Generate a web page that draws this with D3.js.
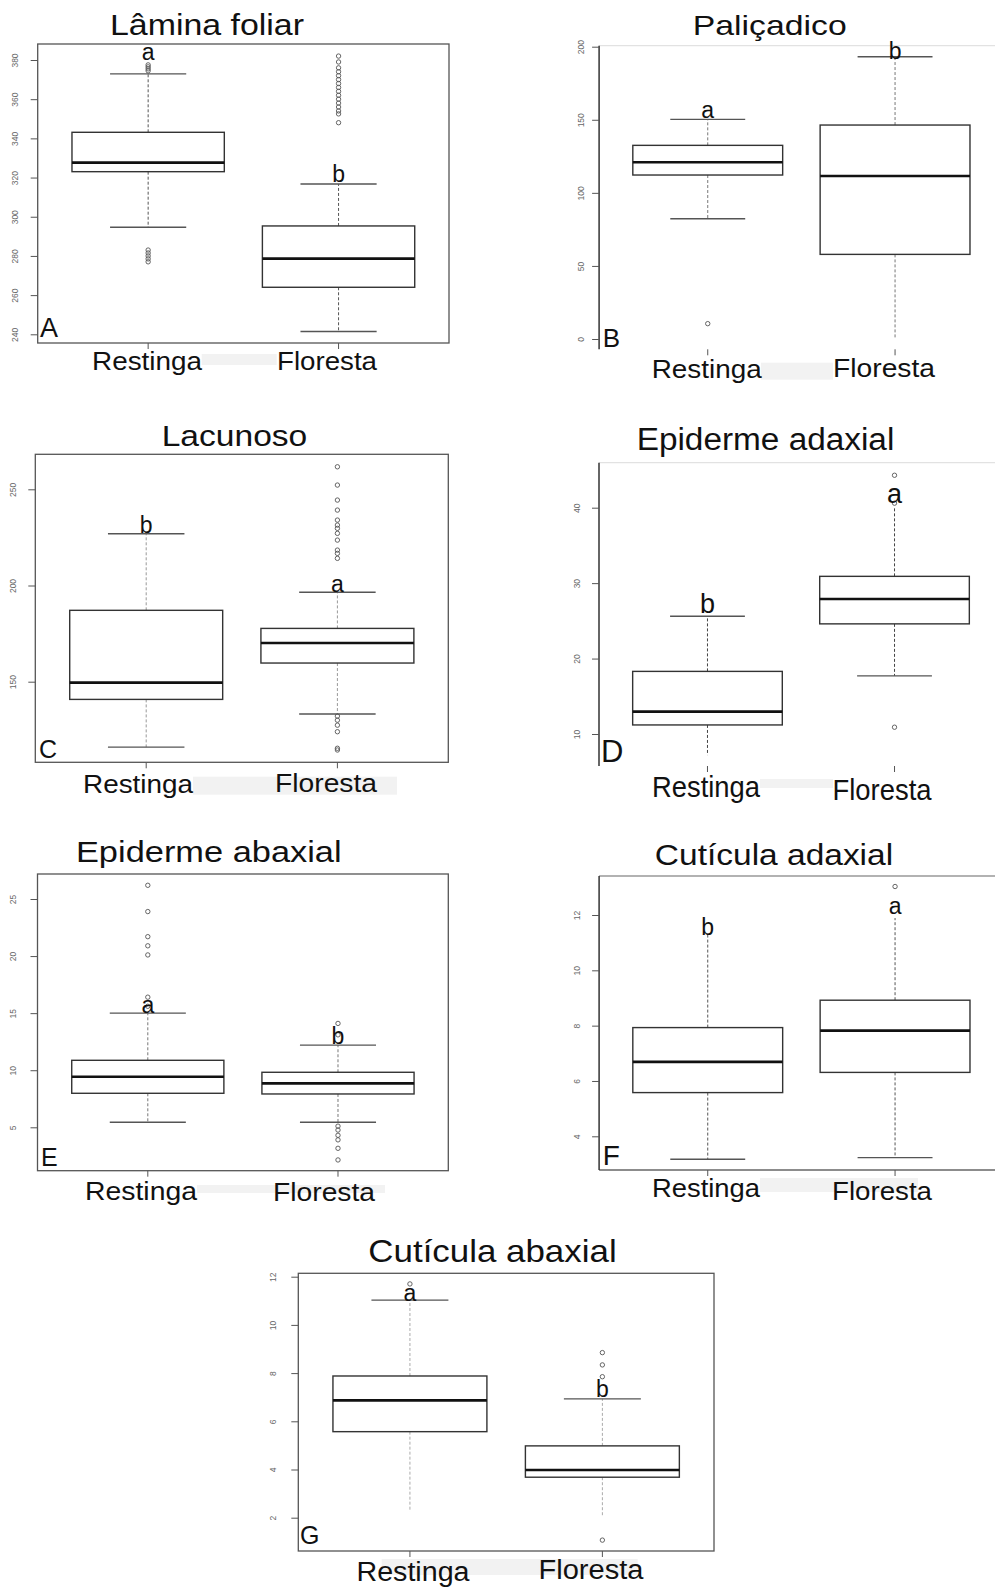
<!DOCTYPE html>
<html>
<head>
<meta charset="utf-8">
<script src="https://cdn.jsdelivr.net/npm/d3@7"></script>
<style>
  body { margin: 0; background: #fff; }
  svg { display: block; }
  text { font-family: "Liberation Sans", Arial, sans-serif; }
</style>
</head>
<body>
<svg id="fig" width="995" height="1587"></svg>
<script>
// ---- data: leaf anatomy measurements, Restinga vs Floresta ----
const groups = ["Restinga", "Floresta"];
const titles = ["Lâmina foliar", "Paliçadico", "Lacunoso", "Epiderme adaxial",
                "Epiderme abaxial", "Cutícula adaxial", "Cutícula abaxial"];
const panelTags = ["A", "B", "C", "D", "E", "F", "G"];
const tickValues = [
  [240, 260, 280, 300, 320, 340, 360, 380],
  [0, 50, 100, 150, 200],
  [150, 200, 250],
  [10, 20, 30, 40],
  [5, 10, 15, 20, 25],
  [4, 6, 8, 10, 12],
  [2, 4, 6, 8, 10, 12]
];
// five-number summaries, [Restinga, Floresta] per panel
const lowerWhisker  = [[294.6, 241.4], [82.3, 0.5], [116, 133.2], [7.2, 17.7], [5.44, 5.44], [3.17, 3.23], [2.25, 2.07]];
const lowerQuartile = [[323, 264], [112.2, 57.9], [140.8, 159.7], [11.2, 24.6], [7.98, 7.92], [5.58, 6.31], [5.57, 3.68]];
const medians       = [[327.6, 278.6], [120.9, 111.5], [149.5, 170.1], [12.96, 27.9], [9.43, 8.85], [6.69, 7.82], [6.87, 3.98]];
const upperQuartile = [[343.1, 295.3], [132.5, 146.4], [187.1, 177.7], [18.3, 30.9], [10.87, 9.82], [7.93, 8.92], [7.88, 4.98]];
const upperWhisker  = [[372.9, 316.7], [150.3, 193.1], [226.9, 196.5], [25.6, 40.1], [15.0, 12.2], [11.28, 11.89], [11.03, 6.93]];
const outliers = [
  [[283, 281.5, 280, 278.5, 277, 374.5, 375.5, 376.5, 377.5],
   [382, 379, 376, 374, 372, 370, 368, 366, 364, 362, 360, 358, 356, 354, 352.5, 348]],
  [[10.5], []],
  [[],
   [261.7, 252.2, 244.4, 239.2, 234, 231.4, 229.7, 227.1, 223.6, 218.4, 216.7, 214.1,
    132.1, 130, 127.4, 124, 115.4, 114.5]],
  [[], [10.9, 40.6, 44.3]],
  [[26.2, 23.9, 21.7, 20.9, 20.1, 16.4, 15.6],
   [14.1, 13.1, 5.1, 4.76, 4.3, 3.9, 3.16, 2.14]],
  [[], [13.03]],
  [[11.7], [8.85, 8.34, 7.85, 1.07]]
];
const groupLetters = [["a", "b"], ["a", "b"], ["b", "a"], ["b", "a"], ["a", "b"], ["b", "a"], ["a", "b"]];

// ---- panel geometry ----
const layout = [
  { left: 37.7, right: 449, top: 44, bottom: 343, yd: [240, 380], yr: [334.3, 60], frame: "box", tickLabelX: 15,
    title: { cx: 207, y: 35, size: 30, w: 194 },
    xlab: { size: 25, items: [{ cx: 147, w: 110, y: 370 }, { cx: 327, w: 100, y: 370 }] },
    band: [201.7, 354, 75, 11], letters: { size: 23, y: [60, 182] }, tag: { x: 40, y: 337, size: 27 },
    whisker: "#555", hideCaps: [[false, false], [false, false]] },
  { left: 599.1, right: 1003.7, top: 45.7, bottom: 349.3, yd: [0, 200], yr: [339, 46.7], frame: "open", tickLabelX: 580.7,
    title: { cx: 769.7, y: 35, size: 28, w: 154 },
    xlab: { size: 26, items: [{ cx: 706.7, w: 110, y: 378 }, { cx: 884, w: 102, y: 376.7 }] },
    band: [761, 362.7, 72, 17], letters: { size: 23, y: [118, 59] }, tag: { x: 602.7, y: 346.7, size: 26 },
    whisker: "#777", hideCaps: [[false, false], [true, false]] },
  { left: 35.3, right: 448.3, top: 454.3, bottom: 762.3, yd: [150, 250], yr: [681.7, 489.3], frame: "box", tickLabelX: 13.3,
    title: { cx: 234.5, y: 446, size: 30, w: 145.6 },
    xlab: { size: 25, items: [{ cx: 138, w: 110, y: 792.7 }, { cx: 326, w: 102, y: 792 }] },
    band: [193, 776.7, 204, 18], letters: { size: 23, y: [533, 591.7] }, tag: { x: 39, y: 758.3, size: 25 },
    whisker: "#999", hideCaps: [[false, false], [false, false]] },
  { left: 599, right: 1003, top: 462.7, bottom: 766, yd: [10, 40], yr: [734, 507.7], frame: "open", tickLabelX: 577,
    title: { cx: 765.5, y: 450, size: 31, w: 257.7 },
    xlab: { size: 29, items: [{ cx: 706, w: 108, y: 796.7 }, { cx: 882, w: 99, y: 800 }] },
    band: [760, 779, 73, 9], letters: { size: 27, y: [613, 503] }, tag: { x: 601, y: 761.7, size: 31 },
    whisker: "#444", hideCaps: [[true, false], [false, true]] },
  { left: 37.5, right: 448.3, top: 874, bottom: 1170.7, yd: [5, 25], yr: [1127.3, 899], frame: "box", tickLabelX: 13.3,
    title: { cx: 208.8, y: 862, size: 29, w: 265.7 },
    xlab: { size: 25, items: [{ cx: 141, w: 112, y: 1200 }, { cx: 324, w: 102, y: 1201 }] },
    band: [197, 1185, 188, 8], letters: { size: 23, y: [1012.7, 1044] }, tag: { x: 41, y: 1166, size: 25 },
    whisker: "#777", hideCaps: [[false, false], [false, false]] },
  { left: 599.1, right: 1003.7, top: 876, bottom: 1170, yd: [4, 12], yr: [1136.3, 915], frame: "openBottom", tickLabelX: 577.3,
    title: { cx: 774, y: 865, size: 30, w: 238.3 },
    xlab: { size: 26, items: [{ cx: 706, w: 108, y: 1196.7 }, { cx: 882, w: 100, y: 1200 }] },
    band: [760, 1178, 158, 14], letters: { size: 23, y: [935, 914] }, tag: { x: 602.7, y: 1165, size: 28 },
    whisker: "#555", hideCaps: [[false, true], [false, true]] },
  { left: 298.3, right: 714, top: 1273.3, bottom: 1551, yd: [2, 12], yr: [1517.7, 1276.7], frame: "box", tickLabelX: 273.3,
    title: { cx: 492.5, y: 1262, size: 32, w: 248.3 },
    xlab: { size: 27, items: [{ cx: 413, w: 113, y: 1580.7 }, { cx: 591, w: 105, y: 1579.3 }] },
    band: [381.7, 1559, 256, 16], letters: { size: 23, y: [1301, 1396.7] }, tag: { x: 300, y: 1544, size: 25 },
    whisker: "#aaa", hideCaps: [[true, false], [true, false]] }
];

const svg = d3.select("#fig");
svg.append("rect").attr("width", 995).attr("height", 1587).attr("fill", "#fff");

layout.forEach((L, p) => {
  const g = svg.append("g").attr("class", "panel-" + panelTags[p]);
  // boxplot positions 1 and 2 on an x range padded to [0.42, 2.58]
  const x = d3.scaleLinear().domain([0.42, 2.58]).range([L.left, L.right]);
  const y = d3.scaleLinear().domain(L.yd).range(L.yr);
  const unit = x(2) - x(1);
  const boxHalf = 0.4 * unit, capHalf = 0.2 * unit;

  // faint band behind the group labels
  g.append("rect").attr("x", L.band[0]).attr("y", L.band[1])
    .attr("width", L.band[2]).attr("height", L.band[3]).attr("fill", "#f2f2f2");

  // frame
  if (L.frame === "box") {
    g.append("rect").attr("x", L.left).attr("y", L.top)
      .attr("width", L.right - L.left).attr("height", L.bottom - L.top)
      .attr("fill", "none").attr("stroke", "#555").attr("stroke-width", 1.3);
  } else {
    g.append("line").attr("x1", L.left).attr("x2", 995).attr("y1", L.top).attr("y2", L.top)
      .attr("stroke", L.frame === "openBottom" ? "#999" : "#e2e2e2").attr("stroke-width", 1.3);
    if (L.frame === "openBottom") {
      g.append("line").attr("x1", L.left).attr("x2", 995).attr("y1", L.bottom).attr("y2", L.bottom)
        .attr("stroke", "#666").attr("stroke-width", 1.3);
    }
    g.append("line").attr("x1", L.left).attr("x2", L.left).attr("y1", L.top).attr("y2", L.bottom)
      .attr("stroke", "#333").attr("stroke-width", 1.5);
  }

  // y axis with rotated tick labels
  const yAxis = d3.axisLeft(y).tickValues(tickValues[p]).tickSize(7).tickPadding(0).tickFormat(d3.format("d"));
  const ax = g.append("g").attr("transform", `translate(${L.left},0)`).call(yAxis);
  ax.select(".domain").remove();
  ax.selectAll(".tick line").attr("stroke", "#555").attr("stroke-width", 1);
  ax.selectAll(".tick text")
    .attr("x", null).attr("dy", null)
    .attr("text-anchor", "middle")
    .attr("transform", d => `translate(${L.tickLabelX - L.left},0) rotate(-90) translate(0,3)`)
    .attr("font-size", 8.5).attr("fill", "#666");

  // x ticks at the group positions
  groups.forEach((name, i) => {
    g.append("line").attr("x1", x(i + 1)).attr("x2", x(i + 1))
      .attr("y1", L.bottom).attr("y2", L.bottom + 6)
      .attr("stroke", "#555").attr("stroke-width", 1);
  });

  groups.forEach((name, i) => {
    const cx = x(i + 1);
    const lw = lowerWhisker[p][i], q1 = lowerQuartile[p][i], md = medians[p][i],
          q3 = upperQuartile[p][i], uw = upperWhisker[p][i];
    // dashed whiskers
    g.append("line").attr("x1", cx).attr("x2", cx).attr("y1", y(q3)).attr("y2", y(uw))
      .attr("stroke", L.whisker).attr("stroke-width", 1).attr("stroke-dasharray", "3,2");
    g.append("line").attr("x1", cx).attr("x2", cx).attr("y1", y(q1)).attr("y2", y(lw))
      .attr("stroke", L.whisker).attr("stroke-width", 1).attr("stroke-dasharray", "3,2");
    // staples
    [[lw, 0], [uw, 1]].forEach(([v, k]) => {
      if (L.hideCaps[i][k]) return;
      g.append("line").attr("x1", cx - capHalf).attr("x2", cx + capHalf)
        .attr("y1", y(v)).attr("y2", y(v))
        .attr("stroke", "#555").attr("stroke-width", 1.4);
    });
    // box
    g.append("rect").attr("x", cx - boxHalf).attr("y", y(q3))
      .attr("width", 2 * boxHalf).attr("height", y(q1) - y(q3))
      .attr("fill", "#fff").attr("stroke", "#333").attr("stroke-width", 1.4);
    // median
    g.append("line").attr("x1", cx - boxHalf).attr("x2", cx + boxHalf)
      .attr("y1", y(md)).attr("y2", y(md))
      .attr("stroke", "#111").attr("stroke-width", 2.6);
    // outliers
    g.selectAll(null).data(outliers[p][i]).enter().append("circle")
      .attr("cx", cx).attr("cy", d => y(d)).attr("r", 2.2)
      .attr("fill", "none").attr("stroke", "#555").attr("stroke-width", 0.9);
    // significance letter
    g.append("text").attr("x", cx).attr("y", L.letters.y[i])
      .attr("text-anchor", "middle").attr("font-size", L.letters.size).attr("fill", "#111")
      .text(groupLetters[p][i]);
    // group label
    const it = L.xlab.items[i];
    g.append("text").attr("x", it.cx - it.w / 2).attr("y", it.y)
      .attr("font-size", L.xlab.size).attr("fill", "#111")
      .attr("textLength", it.w).attr("lengthAdjust", "spacingAndGlyphs")
      .text(name);
  });

  // panel title
  g.append("text").attr("x", L.title.cx - L.title.w / 2).attr("y", L.title.y)
    .attr("font-size", L.title.size).attr("fill", "#111")
    .attr("textLength", L.title.w).attr("lengthAdjust", "spacingAndGlyphs")
    .text(titles[p]);

  // panel tag
  g.append("text").attr("x", L.tag.x).attr("y", L.tag.y)
    .attr("font-size", L.tag.size).attr("fill", "#111")
    .text(panelTags[p]);
});
</script>
</body>
</html>
